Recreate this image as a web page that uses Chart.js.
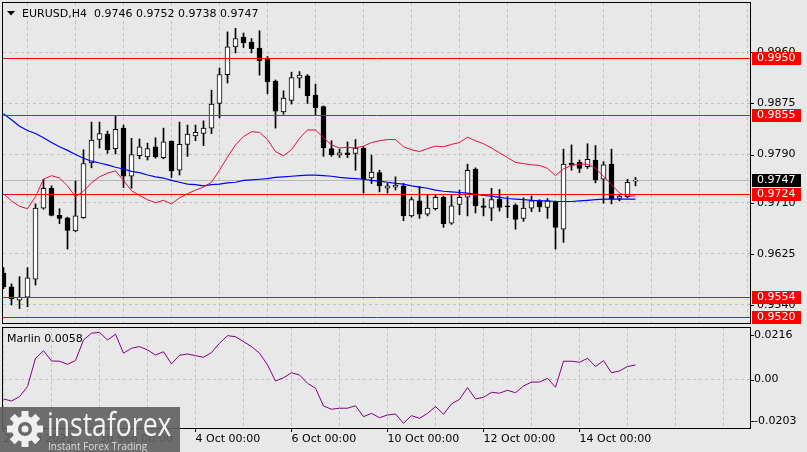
<!DOCTYPE html>
<html><head><meta charset="utf-8">
<script src="https://cdn.jsdelivr.net/npm/chart.js@4.4.0/dist/chart.umd.min.js"></script>
<style>
html,body{margin:0;padding:0;background:#e8e8e8;}
#wrap{position:relative;width:807px;height:452px;overflow:hidden;background:#e8e8e8;}
#c1{position:absolute;left:0;top:0;}
#c2{position:absolute;left:0;top:325px;}
#wm{position:absolute;left:0;top:407px;width:180px;height:45px;background:rgba(95,95,95,0.9);overflow:hidden;}
#wm .t1{position:absolute;left:47px;top:-2px;font-family:"Open Sans";font-size:32px;line-height:38px;color:#f2f2f2;transform:scaleX(0.83);transform-origin:left top;white-space:nowrap;}
#wm .t2{position:absolute;left:48px;top:33px;font-family:"Open Sans";font-size:10px;line-height:12px;color:#dcdcdc;white-space:nowrap;}
#wm svg{position:absolute;left:6px;top:3px;}
</style></head>
<body>
<div id="wrap">
<canvas id="c1" width="807" height="326"></canvas>
<canvas id="c2" width="807" height="127"></canvas>
<div id="wm">
<svg width="38" height="38" viewBox="-19 -19 38 38">
<g fill="#f0f0f0">
<circle r="13"/>
<rect x="-3.5" y="-18" width="7" height="8"/>
<rect x="-3.5" y="-18" width="7" height="8" transform="rotate(45)"/>
<rect x="-3.5" y="-18" width="7" height="8" transform="rotate(90)"/>
<rect x="-3.5" y="-18" width="7" height="8" transform="rotate(135)"/>
<rect x="-3.5" y="-18" width="7" height="8" transform="rotate(180)"/>
<rect x="-3.5" y="-18" width="7" height="8" transform="rotate(225)"/>
<rect x="-3.5" y="-18" width="7" height="8" transform="rotate(270)"/>
<rect x="-3.5" y="-18" width="7" height="8" transform="rotate(315)"/>
</g>
<circle r="7" fill="#6a6a6a"/>
<circle r="3.5" fill="#f0f0f0"/>
</svg>
<div class="t1">instaforex</div>
<div class="t2">Instant Forex Trading</div>
</div>
</div>
<script>
// ---------- DATA ----------
const opens = [0.9593,0.9570,0.9548,0.9553,0.9583,0.9701,0.9734,0.9689,0.9685,0.9663,
0.9685,0.9776,0.9815,0.9824,0.9800,0.9834,0.9754,0.9788,0.9786,0.9803,
0.9785,0.9812,0.9764,0.9807,0.9821,0.9825,0.9834,0.9875,0.9923,0.9969,
0.9985,0.9977,0.9967,0.9950,0.9912,0.9861,0.9880,0.9917,0.9921,0.9889,
0.9870,0.9800,0.9789,0.9793,0.9792,0.9801,0.9751,0.9760,0.9734,0.9736,
0.9738,0.9688,0.9713,0.9691,0.9700,0.9719,0.9676,0.9707,0.9719,0.9766,
0.9705,0.9701,0.9716,0.9704,0.9706,0.9684,0.9701,0.9713,0.9702,0.9712,
0.9666,0.9776,0.9777,0.9770,0.9781,0.9749,0.9774,0.9717,0.9720,0.9746];
const highs = [0.9602,0.9575,0.9587,0.9602,0.9708,0.9749,0.9738,0.9700,0.9686,0.9746,
0.9798,0.9844,0.9844,0.9829,0.9855,0.9839,0.9817,0.9816,0.9809,0.9818,
0.9834,0.9813,0.9844,0.9839,0.9839,0.9846,0.9897,0.9934,0.9994,1.0000,
0.9992,0.9983,0.9996,0.9953,0.9914,0.9896,0.9927,0.9928,0.9923,0.9907,
0.9871,0.9813,0.9799,0.9811,0.9815,0.9803,0.9789,0.9764,0.9742,0.9753,
0.9742,0.9719,0.9737,0.9723,0.9723,0.9721,0.9723,0.9731,0.9774,0.9768,
0.9717,0.9734,0.9732,0.9720,0.9708,0.9718,0.9721,0.9715,0.9717,0.9713,
0.9799,0.9806,0.9781,0.9808,0.9805,0.9778,0.9799,0.9724,0.9749,0.9752];
const lows = [0.9567,0.9540,0.9534,0.9537,0.9573,0.9699,0.9688,0.9675,0.9633,0.9662,
0.9684,0.9768,0.9801,0.9792,0.9791,0.9735,0.9734,0.9783,0.9781,0.9784,
0.9783,0.9752,0.9756,0.9787,0.9813,0.9805,0.9825,0.9851,0.9909,0.9959,
0.9968,0.9959,0.9922,0.9891,0.9834,0.9857,0.9874,0.9901,0.9875,0.9856,
0.9787,0.9787,0.9785,0.9785,0.9764,0.9726,0.9742,0.9728,0.9726,0.9731,
0.9680,0.9686,0.9684,0.9688,0.9698,0.9669,0.9674,0.9690,0.9688,0.9693,
0.9688,0.9680,0.9696,0.9685,0.9666,0.9679,0.9695,0.9695,0.9684,0.9633,
0.9644,0.9764,0.9760,0.9767,0.9743,0.9709,0.9708,0.9713,0.9718,0.9738];
const closes = [0.9570,0.9550,0.9553,0.9585,0.9701,0.9734,0.9689,0.9684,0.9664,0.9688,
0.9775,0.9814,0.9825,0.9798,0.9832,0.9754,0.9790,0.9803,0.9800,0.9786,
0.9811,0.9763,0.9807,0.9824,0.9827,0.9834,0.9874,0.9923,0.9969,0.9983,
0.9976,0.9966,0.9946,0.9911,0.9862,0.9884,0.9918,0.9922,0.9888,0.9868,
0.9801,0.9790,0.9793,0.9790,0.9801,0.9749,0.9761,0.9738,0.9738,0.9739,
0.9688,0.9715,0.9691,0.9701,0.9719,0.9675,0.9705,0.9719,0.9764,0.9705,
0.9702,0.9715,0.9702,0.9703,0.9682,0.9701,0.9713,0.9703,0.9713,0.9669,
0.9774,0.9773,0.9767,0.9782,0.9748,0.9773,0.9716,0.9721,0.9744,0.9747];
const maRed = [0.9725,0.9713,0.9704,0.9700,0.9720,0.9749,0.9755,0.9751,0.9738,0.9720,
0.9729,0.9743,0.9753,0.9759,0.9763,0.9747,0.9730,0.9722,0.9715,0.9710,
0.9714,0.9708,0.9718,0.9725,0.9731,0.9736,0.9744,0.9764,0.9786,0.9806,
0.9820,0.9828,0.9827,0.9815,0.9795,0.9788,0.9798,0.9817,0.9831,0.9831,
0.9818,0.9806,0.9801,0.9802,0.9801,0.9804,0.9810,0.9813,0.9815,0.9815,
0.9803,0.9798,0.9795,0.9800,0.9804,0.9803,0.9807,0.9810,0.9819,0.9813,
0.9808,0.9801,0.9793,0.9785,0.9777,0.9775,0.9773,0.9772,0.9767,0.9755,
0.9766,0.9772,0.9774,0.9774,0.9767,0.9754,0.9740,0.9726,0.9721,0.9721];
const maBlue = [0.9858,0.9848,0.9837,0.9830,0.9825,0.9818,0.9810,0.9803,0.9797,0.9790,
0.9784,0.9779,0.9776,0.9773,0.9769,0.9766,0.9762,0.9760,0.9756,0.9753,
0.9751,0.9747,0.9744,0.9741,0.9740,0.9738,0.9740,0.9741,0.9743,0.9744,
0.9747,0.9748,0.9749,0.9750,0.9752,0.9753,0.9754,0.9755,0.9756,0.9756,
0.9755,0.9754,0.9752,0.9751,0.9750,0.9749,0.9747,0.9746,0.9744,0.9742,
0.9741,0.9738,0.9736,0.9734,0.9731,0.9729,0.9728,0.9727,0.9726,0.9724,
0.9722,0.9721,0.9719,0.9717,0.9716,0.9715,0.9714,0.9713,0.9713,0.9712,
0.9712,0.9712,0.9713,0.9714,0.9715,0.9716,0.9716,0.9716,0.9716,0.9716];
const marlin = [-0.0094,-0.0104,-0.0083,-0.0034,0.0103,0.0140,0.0090,0.0089,0.0074,0.0092,
0.0192,0.0225,0.0229,0.0192,0.0220,0.0128,0.0152,0.0160,0.0144,0.0119,
0.0135,0.0076,0.0118,0.0124,0.0116,0.0108,0.0131,0.0176,0.0213,0.0208,
0.0184,0.0160,0.0128,0.0071,-0.0007,0.0009,0.0033,0.0022,-0.0018,-0.0042,
-0.0128,-0.0144,-0.0139,-0.0139,-0.0127,-0.0180,-0.0164,-0.0185,-0.0172,-0.0167,
-0.0212,-0.0175,-0.0188,-0.0164,-0.0131,-0.0168,-0.0118,-0.0096,-0.0039,-0.0094,
-0.0086,-0.0062,-0.0066,-0.0052,-0.0064,-0.0031,-0.0012,-0.0012,0.0006,-0.0037,
0.0089,0.0089,0.0084,0.0103,0.0063,0.0092,0.0033,0.0042,0.0063,0.0071];
const levelPrices = [0.9950,0.9855,0.9724,0.9554,0.9520];
const bidPrice = 0.9747;
const priceTicks = [0.9960,0.9875,0.9790,0.9710,0.9625,0.9540];
const priceTickLabels = ['0.9960','0.9875','0.9790','0.9710','0.9625','0.9540'];
const marlinTicks = [0.0216,0,-0.0203];
const marlinTickLabels = ['0.0216','0.00','-0.0203'];
const gridIdx = [0,6,12,18,24,30,36,42,48,54,60,66,72,78,84,90];
const xLabelIdx = [0,12,24,36,48,60,72];
const xLabelText = ['28 Sep 2022','30 Sep 00:00','4 Oct 00:00','6 Oct 00:00','10 Oct 00:00','12 Oct 00:00','14 Oct 00:00'];
const symbolText = 'EURUSD,H4';
const indicatorLabel = 'Marlin 0.0058';

// ---------- CHARTS ----------
Chart.defaults.font.family = "'DejaVu Sans'";
Chart.defaults.font.size = 11;
Chart.defaults.color = '#000';
const FONT = '11px "DejaVu Sans"';
const GRID = '#c0c0c0';
const xMin = -0.0625, xMax = 93.3125;
const last = opens.length - 1;

const bodies = opens.map((o,i)=>({x:i, y:[o, closes[i]]}));
const wicks = lows.map((l,i)=>({x:i, y:[l, highs[i]]}));
const bodyColors = opens.map((o,i)=> closes[i] > o ? '#ffffff' : '#000000');

function zeroPad(s){ s.paddingTop=0; s.paddingBottom=0; s.paddingLeft=0; s.paddingRight=0; }

const mainPlugin = {
  id:'mainDeco',
  beforeDatasetsDraw(chart){
    const {ctx, chartArea:a, scales:{y}} = chart;
    const py = Math.round(y.getPixelForValue(bidPrice)) + 0.5;
    ctx.save(); ctx.strokeStyle='#b8b8b8'; ctx.lineWidth=1;
    ctx.beginPath(); ctx.moveTo(a.left,py); ctx.lineTo(a.right,py); ctx.stroke(); ctx.restore();
  },
  afterDatasetsDraw(chart){
    const {ctx, chartArea:a, scales:{y}} = chart;
    ctx.save(); ctx.strokeStyle='#ff0000'; ctx.lineWidth=1;
    levelPrices.forEach(v=>{
      const py = Math.round(y.getPixelForValue(v)) + 0.5;
      ctx.beginPath(); ctx.moveTo(a.left,py); ctx.lineTo(a.right,py); ctx.stroke();
    });
    ctx.restore();
  },
  afterDraw(chart){
    const {ctx, chartArea:a, scales:{y}} = chart;
    ctx.save();
    ctx.strokeStyle='#000'; ctx.lineWidth=1;
    ctx.strokeRect(a.left-0.5, a.top-0.5, a.right-a.left+1, a.bottom-a.top+1);
    priceTicks.forEach(v=>{
      const py = Math.round(y.getPixelForValue(v)) + 0.5;
      ctx.beginPath(); ctx.moveTo(a.right, py); ctx.lineTo(a.right+4, py); ctx.stroke();
    });
    ctx.font = FONT; ctx.textBaseline='middle'; ctx.textAlign='left';
    const box = (v, bg) => {
      const py = Math.round(y.getPixelForValue(v));
      ctx.fillStyle = bg; ctx.fillRect(a.right+2, py-6, 49, 13);
      ctx.fillStyle = '#fff'; ctx.fillText(v.toFixed(4), a.right+7, py+0.5);
    };
    levelPrices.forEach(v=>box(v,'#ff0000'));
    box(bidPrice,'#000000');
    // title
    ctx.fillStyle='#000';
    ctx.beginPath(); ctx.moveTo(7,11); ctx.lineTo(15,11); ctx.lineTo(11,15.5); ctx.closePath(); ctx.fill();
    ctx.textBaseline='alphabetic';
    ctx.fillText(symbolText, 22, 17);
    ctx.fillText([opens[last],highs[last],lows[last],closes[last]].map(v=>v.toFixed(4)).join(' '), 94, 17);
    ctx.restore();
  }
};

new Chart(document.getElementById('c1'), {
  type:'bar',
  data:{datasets:[
    {type:'line', data:maRed.map((v,i)=>({x:i,y:v})), borderColor:'#e0103c', borderWidth:1, pointRadius:0, tension:0, order:0},
    {type:'line', data:maBlue.map((v,i)=>({x:i,y:v})), borderColor:'#0000ff', borderWidth:1.2, pointRadius:0, tension:0, order:1},
    {type:'bar', data:bodies, backgroundColor:bodyColors, borderColor:'#000', borderWidth:1, borderSkipped:false, barThickness:5, grouped:false, minBarLength:1, order:2},
    {type:'bar', data:wicks, backgroundColor:'#000', borderWidth:0, barThickness:1, grouped:false, order:3}
  ]},
  options:{
    responsive:false, animation:false, devicePixelRatio:1, events:[],
    layout:{padding:{left:3,top:3,right:0,bottom:3}},
    plugins:{legend:{display:false}, tooltip:{enabled:false}},
    scales:{
      x:{type:'linear', min:xMin, max:xMax, offset:false,
         afterBuildTicks:s=>{s.ticks=gridIdx.map(v=>({value:v}));},
         afterFit:s=>{s.height=0; zeroPad(s);},
         ticks:{display:false}, grid:{color:GRID, drawTicks:false}, border:{display:false, dash:[3,3]}},
      y:{type:'linear', position:'right', min:0.9510, max:1.0042,
         afterBuildTicks:s=>{s.ticks=priceTicks.map(v=>({value:v}));},
         afterFit:s=>{s.width=57; zeroPad(s);},
         ticks:{padding:7, color:'#000', font:{size:11}, callback:(v,i)=>priceTickLabels[i]},
         grid:{color:GRID, drawTicks:false}, border:{display:false, dash:[3,3]}}
    }
  },
  plugins:[mainPlugin]
});

const subPlugin = {
  id:'subDeco',
  afterDraw(chart){
    const {ctx, chartArea:a, scales:{x,y}} = chart;
    ctx.save();
    ctx.strokeStyle='#000'; ctx.lineWidth=1;
    ctx.strokeRect(a.left-0.5, a.top+0.5, a.right-a.left+1, a.bottom-a.top);
    marlinTicks.forEach(v=>{
      const py = Math.round(y.getPixelForValue(v)) + 0.5;
      ctx.beginPath(); ctx.moveTo(a.right, py); ctx.lineTo(a.right+4, py); ctx.stroke();
    });
    xLabelIdx.forEach(i=>{
      const px = Math.floor(x.getPixelForValue(i)) + 0.5;
      ctx.beginPath(); ctx.moveTo(px, a.bottom); ctx.lineTo(px, a.bottom+4); ctx.stroke();
    });
    ctx.fillStyle='#000'; ctx.font=FONT; ctx.textBaseline='alphabetic'; ctx.textAlign='left';
    ctx.fillText(indicatorLabel, 7, 17);
    ctx.restore();
  }
};

new Chart(document.getElementById('c2'), {
  type:'line',
  data:{datasets:[
    {data:marlin.map((v,i)=>({x:i,y:v})), borderColor:'#800080', borderWidth:1, pointRadius:0, tension:0}
  ]},
  options:{
    responsive:false, animation:false, devicePixelRatio:1, events:[],
    layout:{padding:{left:3,top:2,right:0,bottom:0}},
    plugins:{legend:{display:false}, tooltip:{enabled:false}},
    scales:{
      x:{type:'linear', min:xMin, max:xMax, offset:false,
         afterBuildTicks:s=>{s.ticks=gridIdx.map(v=>({value:v}));},
         afterFit:s=>{s.height=24; zeroPad(s);},
         ticks:{autoSkip:false, maxRotation:0, minRotation:0, align:'start', padding:5, color:'#000',
                callback:(v)=>{const k=xLabelIdx.indexOf(v); return k>=0?xLabelText[k]:'';}},
         grid:{color:GRID, drawTicks:false}, border:{display:false, dash:[3,3]}},
      y:{type:'linear', position:'right', min:-0.0235, max:0.0255,
         afterBuildTicks:s=>{s.ticks=marlinTicks.map(v=>({value:v}));},
         afterFit:s=>{s.width=57; zeroPad(s);},
         ticks:{padding:4, color:'#000', callback:(v,i)=>marlinTickLabels[i]},
         grid:{color:(c)=> (c.tick && c.tick.value===0) ? GRID : 'rgba(0,0,0,0)', drawTicks:false},
         border:{display:false, dash:[3,3]}}
    }
  },
  plugins:[subPlugin]
});
</script>
</body></html>
